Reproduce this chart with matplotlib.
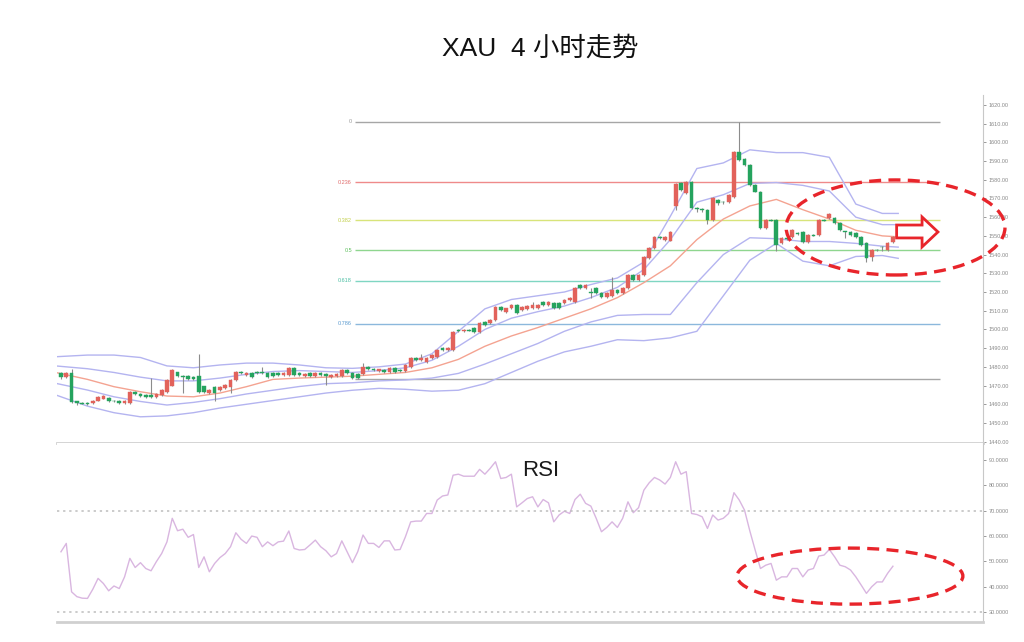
import matplotlib.pyplot as plt
import numpy as np
from matplotlib.patches import Ellipse, Polygon
from matplotlib.ticker import FormatStrFormatter

plt.rcParams['font.family'] = ['Liberation Sans', 'Noto Sans CJK SC', 'DejaVu Sans']

# ---- 4h candles ----
opens = [1476.5, 1474.5, 1476.5, 1461.5, 1460.8, 1460.6, 1460.5, 1462.0, 1463.0, 1463.5,
         1462.0, 1461.8, 1460.5, 1460.5, 1466.7, 1465.5, 1465.0, 1465.0, 1464.0, 1465.0,
         1466.5, 1470.0, 1477.0, 1475.0, 1475.0, 1474.5, 1475.0, 1469.5, 1465.8, 1469.4,
         1467.6, 1468.5, 1469.4, 1472.9, 1477.4, 1475.6, 1476.5, 1477.4, 1477.4, 1476.5,
         1476.5, 1476.5, 1475.6, 1475.6, 1479.2, 1476.5, 1475.0, 1476.5, 1475.3, 1476.5,
         1476.0, 1474.8, 1475.0, 1475.1, 1478.3, 1476.5, 1476.0, 1476.0, 1480.0, 1478.8,
         1478.0, 1478.5, 1477.4, 1479.2, 1478.5, 1478.0, 1480.1, 1484.5, 1483.8, 1482.8,
         1484.5, 1485.4, 1489.9, 1489.2, 1489.0, 1499.7, 1499.2, 1499.9, 1500.6, 1498.8,
         1504.1, 1503.3, 1505.0, 1512.1, 1509.5, 1511.2, 1513.0, 1510.4, 1510.7, 1511.2,
         1511.5, 1514.8, 1513.0, 1514.0, 1514.0, 1514.0, 1515.7, 1514.8, 1523.7, 1522.0,
         1520.0, 1522.0, 1519.3, 1517.5, 1517.9, 1521.1, 1519.3, 1522.0, 1529.1, 1526.4,
         1529.1, 1538.0, 1543.4, 1549.6, 1547.8, 1547.5, 1566.0, 1578.1, 1572.8, 1579.0,
         1565.0, 1564.5, 1563.9, 1558.5, 1569.2, 1568.3, 1568.3, 1570.6, 1595.0, 1591.0,
         1587.9, 1577.2, 1573.7, 1554.1, 1558.5, 1558.5, 1546.0, 1548.7, 1549.6, 1551.5,
         1552.3, 1546.9, 1550.5, 1550.5, 1558.5, 1559.4, 1559.4, 1556.7, 1552.3, 1552.3,
         1551.4, 1549.6, 1546.0, 1538.9, 1542.5, 1544.2, 1542.5, 1546.9]
closes = [1474.5, 1476.5, 1461.0, 1460.5, 1460.4, 1460.2, 1462.0, 1464.0, 1464.5, 1461.5,
          1461.5, 1460.5, 1462.0, 1466.7, 1465.5, 1464.2, 1464.0, 1464.0, 1465.5, 1467.5,
          1473.0, 1478.3, 1475.0, 1474.5, 1473.5, 1473.5, 1466.7, 1466.7, 1467.6, 1465.8,
          1469.4, 1470.3, 1472.9, 1477.4, 1476.5, 1476.5, 1474.7, 1476.5, 1476.5, 1474.7,
          1475.0, 1475.6, 1476.5, 1479.2, 1475.6, 1475.6, 1476.0, 1475.3, 1476.5, 1475.5,
          1475.2, 1475.6, 1476.0, 1478.3, 1476.5, 1473.8, 1473.8, 1480.0, 1478.8, 1478.3,
          1478.6, 1477.4, 1479.2, 1477.4, 1478.0, 1481.0, 1484.5, 1483.8, 1484.5, 1484.5,
          1486.3, 1489.0, 1489.2, 1490.0, 1498.8, 1499.2, 1499.9, 1499.4, 1498.8, 1503.3,
          1502.4, 1505.0, 1512.1, 1510.4, 1511.2, 1513.0, 1508.6, 1512.1, 1512.5, 1513.0,
          1513.0, 1513.0, 1514.8, 1511.2, 1511.2, 1515.7, 1516.6, 1522.0, 1522.0, 1523.7,
          1519.5, 1519.3, 1517.5, 1519.3, 1521.1, 1519.3, 1522.0, 1529.1, 1526.4, 1529.1,
          1538.9, 1543.4, 1549.6, 1548.7, 1549.6, 1552.3, 1577.8, 1574.5, 1579.0, 1564.7,
          1564.5, 1564.0, 1558.5, 1570.1, 1567.8, 1568.0, 1571.9, 1595.0, 1590.6, 1587.9,
          1577.2, 1573.7, 1554.1, 1558.5, 1558.2, 1545.1, 1548.7, 1548.4, 1553.2, 1551.2,
          1546.9, 1550.5, 1550.2, 1558.5, 1558.2, 1561.7, 1556.7, 1553.2, 1552.0, 1550.5,
          1549.6, 1545.1, 1538.0, 1542.5, 1542.2, 1543.9, 1546.0, 1549.6]
highs = [1477.5, 1477.5, 1479.0, 1462.0, 1461.3, 1461.0, 1462.5, 1464.5, 1465.0, 1464.0,
         1462.5, 1462.2, 1462.5, 1467.2, 1467.2, 1466.0, 1465.5, 1474.0, 1466.0, 1468.0,
         1473.5, 1478.8, 1477.5, 1475.5, 1475.5, 1475.0, 1487.0, 1470.0, 1468.0, 1469.9,
         1469.9, 1470.8, 1473.4, 1477.9, 1477.9, 1477.0, 1477.0, 1477.9, 1480.0, 1477.0,
         1477.0, 1477.0, 1477.0, 1479.7, 1479.7, 1477.0, 1476.5, 1477.0, 1477.0, 1477.0,
         1476.5, 1476.1, 1476.5, 1478.8, 1478.8, 1477.0, 1476.5, 1481.9, 1480.5, 1479.3,
         1479.1, 1479.0, 1479.7, 1479.7, 1479.0, 1481.5, 1485.0, 1485.0, 1487.0, 1485.0,
         1486.8, 1489.5, 1490.4, 1490.5, 1499.3, 1500.2, 1500.4, 1500.4, 1501.1, 1503.8,
         1504.6, 1505.5, 1512.6, 1512.6, 1511.7, 1513.5, 1513.5, 1512.6, 1513.0, 1514.8,
         1513.5, 1515.3, 1515.3, 1514.5, 1514.5, 1516.2, 1517.1, 1522.5, 1524.2, 1524.2,
         1522.0, 1522.5, 1519.8, 1519.8, 1528.0, 1521.6, 1522.5, 1529.6, 1529.6, 1529.6,
         1539.4, 1543.9, 1550.1, 1550.1, 1550.1, 1552.8, 1578.3, 1578.6, 1579.5, 1579.5,
         1565.5, 1565.0, 1564.4, 1570.6, 1569.7, 1568.8, 1572.4, 1595.5, 1611.0, 1591.5,
         1588.4, 1577.7, 1574.2, 1559.0, 1559.0, 1559.0, 1549.2, 1549.2, 1553.7, 1552.0,
         1552.8, 1551.0, 1551.0, 1559.0, 1559.0, 1562.2, 1559.9, 1557.2, 1552.8, 1552.8,
         1551.9, 1550.1, 1546.5, 1543.0, 1543.0, 1544.7, 1546.5, 1550.1]
lows = [1473.5, 1474.0, 1460.5, 1459.8, 1460.0, 1459.6, 1460.0, 1461.5, 1462.6, 1461.0,
        1461.0, 1460.0, 1460.0, 1460.0, 1465.0, 1463.8, 1463.5, 1463.5, 1463.5, 1464.5,
        1466.0, 1469.5, 1474.5, 1466.0, 1473.0, 1473.0, 1466.0, 1466.2, 1465.3, 1462.0,
        1467.1, 1468.0, 1465.8, 1472.4, 1476.0, 1475.1, 1474.2, 1476.0, 1476.0, 1474.2,
        1474.5, 1475.1, 1475.1, 1475.1, 1475.1, 1475.1, 1474.5, 1474.8, 1474.8, 1475.0,
        1470.5, 1474.3, 1474.5, 1474.6, 1476.0, 1473.3, 1473.3, 1475.5, 1478.3, 1477.8,
        1477.5, 1476.9, 1476.9, 1476.9, 1477.5, 1477.5, 1479.6, 1483.3, 1483.3, 1482.3,
        1484.0, 1484.9, 1488.7, 1488.7, 1488.5, 1498.7, 1498.7, 1498.9, 1498.3, 1498.3,
        1501.9, 1502.8, 1504.5, 1509.9, 1509.0, 1510.7, 1508.1, 1509.9, 1510.2, 1510.7,
        1511.0, 1512.5, 1512.5, 1510.7, 1510.7, 1513.5, 1515.2, 1514.3, 1521.5, 1521.5,
        1516.6, 1518.8, 1517.0, 1517.0, 1517.4, 1518.8, 1518.8, 1521.5, 1525.9, 1525.9,
        1528.6, 1537.5, 1542.9, 1548.2, 1547.3, 1547.0, 1564.0, 1574.0, 1572.3, 1564.2,
        1563.0, 1563.0, 1556.5, 1558.0, 1566.5, 1567.0, 1567.8, 1570.1, 1590.1, 1587.4,
        1576.7, 1573.2, 1553.6, 1553.6, 1557.7, 1542.0, 1545.5, 1547.9, 1549.1, 1550.7,
        1546.4, 1546.4, 1549.7, 1550.0, 1557.7, 1558.9, 1556.2, 1552.7, 1549.0, 1550.0,
        1549.1, 1544.6, 1536.2, 1536.5, 1541.7, 1542.0, 1542.0, 1546.4]

# ---- RSI, one value per candle ----
rsi = [53.8, 57.1, 38.0, 36.1, 35.5, 35.4, 39.0, 43.3, 41.3, 38.4,
       40.3, 39.3, 43.9, 51.2, 47.6, 49.5, 47.2, 46.3, 49.9, 53.1,
       57.7, 67.0, 62.1, 62.7, 59.5, 60.6, 47.6, 51.8, 45.9, 49.2,
       51.5, 53.1, 55.8, 61.3, 58.7, 57.1, 60.0, 59.5, 55.8, 57.7,
       56.2, 57.7, 58.0, 62.0, 55.1, 54.5, 54.7, 56.5, 58.4, 55.8,
       54.2, 51.8, 53.1, 58.1, 53.8, 49.5, 53.8, 60.4, 57.1, 57.1,
       55.5, 58.1, 58.1, 54.5, 54.7, 59.7, 65.6, 65.9, 65.9, 68.9,
       68.9, 74.2, 75.8, 76.2, 84.0, 84.4, 83.6, 83.6, 83.6, 86.3,
       84.4, 86.7, 89.3, 82.7, 83.1, 84.4, 71.5, 73.1, 74.8, 75.5,
       71.5, 74.4, 73.1, 65.6, 68.3, 69.8, 68.9, 74.4, 76.5, 72.9,
       71.8, 67.0, 61.7, 63.4, 65.6, 63.4, 67.0, 73.5, 69.2, 71.2,
       78.1, 81.0, 83.1, 82.1, 80.5, 83.1, 89.3, 84.4, 85.4, 68.9,
       68.5, 67.6, 63.0, 68.3, 66.3, 67.0, 68.9, 77.1, 74.2, 70.2,
       62.0, 54.5, 47.2, 48.5, 49.2, 42.6, 43.9, 43.9, 47.2, 47.2,
       43.9, 46.6, 47.2, 52.1, 52.5, 54.7, 51.8, 48.5, 47.9, 46.6,
       43.9, 40.7, 37.4, 40.0, 41.9, 41.9, 45.3, 48.1]

# ---- Bollinger bands, read at every 5th candle ----
band_idx = [-1, 5, 10, 15, 20, 25, 30, 35, 40, 45, 50, 55, 60, 65, 70, 75, 80,
            85, 90, 95, 100, 105, 110, 115, 120, 125, 130, 135, 140, 145, 150, 155, 158]
band_up2 = [1485.4, 1486.3, 1486.3, 1485.0, 1480.5, 1479.5, 1481.0, 1482.0, 1482.0, 1481.0,
            1479.5, 1479.2, 1480.0, 1481.5, 1487.0, 1499.0, 1511.0, 1516.0, 1518.0, 1520.0,
            1524.0, 1527.5, 1536.0, 1560.5, 1586.0, 1589.0, 1596.0, 1594.5, 1594.5, 1592.0,
            1567.0, 1562.0, 1562.0]
band_up1 = [1480.5, 1479.0, 1477.0, 1474.5, 1472.5, 1472.5, 1474.0, 1476.0, 1477.5, 1478.0,
            1477.5, 1477.0, 1478.0, 1479.5, 1483.5, 1491.0, 1500.0, 1506.0, 1509.5, 1512.5,
            1517.0, 1522.5, 1532.0, 1548.0, 1568.0, 1572.0, 1578.0, 1578.5, 1577.0, 1574.0,
            1560.0, 1556.0, 1556.0]
band_mid = [1477.0, 1473.3, 1469.4, 1466.7, 1464.4, 1464.0, 1466.0, 1469.4, 1473.3, 1474.0,
            1474.5, 1475.0, 1476.0, 1477.0, 1479.5, 1484.0, 1491.0, 1496.5, 1501.0, 1506.0,
            1511.0, 1517.0, 1525.0, 1534.0, 1548.0, 1559.0, 1566.0, 1569.5, 1564.0, 1559.0,
            1553.0, 1550.0, 1549.5]
band_lo1 = [1471.2, 1467.6, 1464.0, 1461.5, 1459.6, 1461.0, 1463.0, 1465.5, 1467.5, 1469.5,
            1471.0, 1471.5, 1472.5, 1473.0, 1474.0, 1476.5, 1481.5, 1487.0, 1492.5, 1499.0,
            1504.0, 1507.5, 1508.0, 1508.0, 1525.0, 1540.0, 1549.0, 1548.5, 1547.0, 1547.0,
            1546.0, 1544.5, 1544.0]
band_lo2 = [1465.0, 1459.0, 1455.5, 1453.3, 1453.8, 1455.5, 1458.0, 1460.0, 1462.0, 1464.0,
            1466.0, 1467.5, 1468.5, 1468.0, 1467.0, 1467.5, 1471.0, 1477.0, 1483.0, 1488.0,
            1491.0, 1494.5, 1494.0, 1495.5, 1499.0, 1518.0, 1537.0, 1546.0, 1536.5, 1534.0,
            1539.0, 1539.5, 1538.0]

# ---- Fibonacci retracement ----
fib_levels = [0, 0.236, 0.382, 0.5, 0.618, 0.786, 1]
fib_labels = ['0', '0.236', '0.382', '0.5', '0.618', '0.786', '']
fib_high = 1611.0
fib_low = 1473.5
fib_colors = ['#a6a6a6', '#ef8a8a', '#d8e47a', '#8fd68f', '#7fd6c2', '#8cb8dc', '#a6a6a6']
fib_text_colors = ['#999999', '#e06b6b', '#c2cf4a', '#5cbf5c', '#4cbfa4', '#5b9bd0', '#999999']

price_ticks = np.arange(1440, 1621, 10)
rsi_ticks = np.arange(30, 91, 10)

x = np.arange(len(closes))
o = np.array(opens)
c = np.array(closes)
up = c >= o

fig = plt.figure(figsize=(10.24, 6.42), dpi=100)
ax = fig.add_axes([57 / 1024, 1 - 443 / 642, 926 / 1024, 348 / 642])
ax2 = fig.add_axes([57 / 1024, 1 - 622 / 642, 926 / 1024, 179 / 642])

# fib lines
fib_start, fib_end = 55.5, 165.8
for lev, lab, col, tcol in zip(fib_levels, fib_labels, fib_colors, fib_text_colors):
    p = fib_high - lev * (fib_high - fib_low)
    ax.hlines(p, fib_start, fib_end, color=col, lw=1.0, zorder=1)
    if lab:
        ax.text(fib_start - 0.6, p, lab, ha='right', va='center', fontsize=4, color=tcol)

# bands
for band in (band_up2, band_up1, band_lo1, band_lo2):
    ax.plot(band_idx, band, color='#b4b4f0', lw=1.0, zorder=2)
ax.plot(band_idx, band_mid, color='#f4a391', lw=1.0, zorder=2)

# candles
red, green = '#e2625b', '#25a35e'
cols = np.where(up, red, green)
ax.vlines(x, lows, highs, color='#8c8c8c', lw=0.8, zorder=3)
body_h = np.maximum(np.abs(c - o), 0.35)
ax.bar(x, body_h, bottom=np.minimum(o, c), width=0.7, color=cols, edgecolor=cols,
       lw=0.3, zorder=4)

ax.set_xlim(-0.75, 174)
ax.set_ylim(1439.3, 1625.3)
ax.yaxis.tick_right()
ax.set_yticks(price_ticks)
ax.yaxis.set_major_formatter(FormatStrFormatter('%.2f'))
ax.tick_params(axis='y', labelsize=4, colors='#8a8a8a', length=2, width=0.6, pad=2)
ax.set_xticks([])
for s in ('top', 'left'):
    ax.spines[s].set_visible(False)
ax.spines['right'].set_color('#c8c8c8')
ax.spines['bottom'].set_color('#d0d0d0')
ax.spines['bottom'].set_linewidth(2)

# highlight ellipse and arrow on price
ax.add_patch(Ellipse((157.5, 1554.5), 41.3, 50.8, fill=False, ec='#e8252b', lw=2.4,
                     ls=(0, (3.6, 2.2)), clip_on=False, zorder=6))
arrow = [(157.7, 1548.9), (162.5, 1548.9), (162.5, 1544.1), (165.5, 1552.1),
         (162.5, 1560.1), (162.5, 1555.8), (157.7, 1555.8)]
ax.add_patch(Polygon(arrow, closed=True, fc='white', ec='#e8252b', lw=2.0,
                     clip_on=False, zorder=6))

# RSI panel
ax2.plot(x, rsi, color='#d9b6e0', lw=1.0)
for lvl in (70, 30):
    ax2.axhline(lvl, color='#bdbdbd', lw=1.1, ls=(0, (1.5, 2.5)))
ax2.set_xlim(-0.75, 174)
ax2.set_ylim(26.1, 96.7)
ax2.yaxis.tick_right()
ax2.set_yticks(rsi_ticks)
ax2.yaxis.set_major_formatter(FormatStrFormatter('%.4f'))
ax2.tick_params(axis='y', labelsize=4, colors='#8a8a8a', length=2, width=0.6, pad=2)
ax2.set_xticks([])
for s in ('top', 'left'):
    ax2.spines[s].set_visible(False)
ax2.spines['right'].set_color('#c8c8c8')
ax2.spines['bottom'].set_color('#d0d0d0')
ax2.spines['bottom'].set_linewidth(2)

ax2.add_patch(Ellipse((148.9, 44.2), 42.6, 22.1, fill=False, ec='#e8252b', lw=2.4,
                      ls=(0, (3.6, 2.2)), clip_on=False, zorder=6))

fig.text(541 / 1024, 1 - 470 / 642, 'RSI', ha='center', va='center', fontsize=16,
         color='#1a1a1a')
fig.text(540 / 1024, 1 - 48 / 642, 'XAU  4 小时走势', ha='center', va='center',
         fontsize=19, color='#111111')

fig.savefig('out.png', dpi=100)
